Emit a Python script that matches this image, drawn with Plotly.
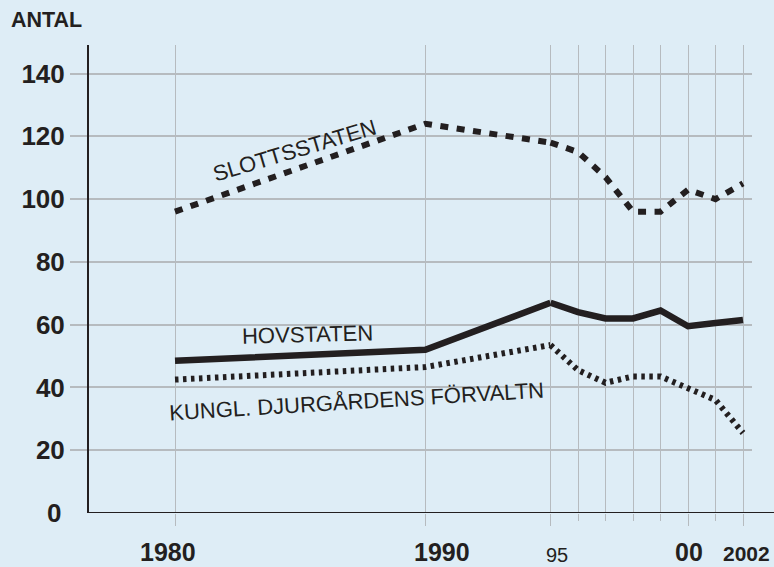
import plotly.graph_objects as go

# ---- data ----
years = [1980, 1990, 1995, 1996, 1997, 1998, 1999, 2000, 2001, 2002]
slottsstaten = [96, 124, 118, 115, 107, 96, 96, 103, 100, 105]
hovstaten = [48.5, 52, 67, 64, 62, 62, 64.5, 59.5, 60.5, 61.5]
djurgarden = [42.5, 46.5, 53.5, 45.5, 41.5, 43.5, 43.5, 40, 36, 25.5]

y_ticks = [20, 40, 60, 80, 100, 120, 140]
x_labels = {1980: "1980", 1990: "1990", 1995: "95", 2000: "00", 2002: "2002"}

BG = "#deedf6"
INK = "#231f20"
GRID = "#b6bbbf"
FONT = "Liberation Sans"

# layout geometry (the drawing uses a wider year spacing after 1995)
W, H = 774, 567
L, R, T, B = 89, 22, 45, 54
PW, PH = W - L - R, H - T - B
px1 = 25.033          # px per year 1980-1995
px2 = 27.5            # px per year 1995-2002
x1995 = 550.5
d1_end = (x1995 - L) / PW
ax1_range = [1995 - (x1995 - L) / px1, 1995]
ax2_start_px = x1995 - 0.5 * px2
d2_start = (ax2_start_px - L) / PW
ax2_range = [1994.5, 1994.5 + (W - R - ax2_start_px) / px2]
y_range = [0, 149.1]

fig = go.Figure()

series = [
    (slottsstaten, dict(color=INK, width=6, dash="8px,8.5px")),
    (hovstaten, dict(color=INK, width=6.5)),
    (djurgarden, dict(color=INK, width=6, dash="3.5px,4.5px")),
]
for vals, line in series:
    xa = [y for y in years if y <= 1995]
    ya = [v for y, v in zip(years, vals) if y <= 1995]
    xb = [y for y in years if y >= 1995]
    yb = [v for y, v in zip(years, vals) if y >= 1995]
    fig.add_trace(go.Scatter(x=xa, y=ya, mode="lines", line=line,
                             xaxis="x", yaxis="y", hoverinfo="skip"))
    fig.add_trace(go.Scatter(x=xb, y=yb, mode="lines", line=line,
                             xaxis="x2", yaxis="y", hoverinfo="skip"))

common_x = dict(showgrid=True, gridcolor=GRID, gridwidth=1, zeroline=False,
                showline=False, showticklabels=False, ticks="outside",
                tickcolor=GRID, tickwidth=1, automargin=False, fixedrange=True)

fig.update_layout(
    template="none",
    width=W, height=H,
    margin=dict(l=L, r=R, t=T, b=B, pad=0),
    paper_bgcolor=BG, plot_bgcolor="rgba(0,0,0,0)",
    showlegend=False,
    xaxis=dict(domain=[0, d1_end], range=ax1_range, tickmode="array",
               tickvals=[1980, 1990], ticklen=12, anchor="y", **common_x),
    xaxis2=dict(domain=[d2_start, 1], range=ax2_range, tickmode="array",
                tickvals=[1995, 2000, 2002], ticklen=12, anchor="y",
                minor=dict(tickmode="array", tickvals=[1996, 1997, 1998, 1999, 2001],
                           ticks="outside", ticklen=7, tickcolor=GRID, tickwidth=1,
                           showgrid=True, gridcolor=GRID, gridwidth=1),
                **common_x),
    yaxis=dict(range=y_range, tickmode="array", tickvals=y_ticks,
               ticktext=[str(v) for v in y_ticks],
               ticks="outside", ticklen=17, tickcolor=GRID, tickwidth=1.5,
               showgrid=True, gridcolor=GRID, gridwidth=1.5, zeroline=False,
               showline=True, linecolor=INK, linewidth=2,
               tickfont=dict(family=FONT, size=26, color=INK, weight="bold"),
               automargin=False, fixedrange=True),
)

# x-axis baseline running to the right edge
fig.add_shape(type="line", xref="paper", yref="y", x0=0, x1=(W - L) / PW,
              y0=0, y1=0, line=dict(color=INK, width=2), layer="above")

ann = []
# x labels (size, weight, horizontal offset, vertical centre in px)
xlab_style = {
    1980: (25, "bold", -6.6, 551.5),
    1990: (25, "bold", 17, 551.5),
    1995: (20, "normal", 6.5, 554.5),
    2000: (25, "bold", 0.8, 551.5),
    2002: (21, "bold", 3.3, 553.5),
}
for yr, txt in x_labels.items():
    size, weight, shift, cy = xlab_style[yr]
    ann.append(dict(text=txt, xref="x" if yr < 1995 else "x2", x=yr, xshift=shift,
                    yref="paper", y=(H - B - cy) / PH, yanchor="middle",
                    xanchor="center", showarrow=False, borderpad=0,
                    font=dict(family=FONT, size=size, color=INK, weight=weight)))
# zero label on y
ann.append(dict(text="0", xref="paper", x=(62 - L) / PW, xanchor="right",
                yref="y", y=0, yanchor="middle", showarrow=False, borderpad=0,
                font=dict(family=FONT, size=26, color=INK, weight="bold")))
# axis title
ann.append(dict(text="ANTAL", xref="paper", x=(10 - L) / PW, xanchor="left",
                yref="paper", y=(H - B - 20.5) / PH, yanchor="middle", showarrow=False,
                borderpad=0,
                font=dict(family=FONT, size=21.5, color=INK, weight="bold")))


def to_x1(px):
    return ax1_range[0] + (px - L) / px1


def to_y(py):
    return (H - B - py) / PH * y_range[1]


# series labels
for txt, cx, cy, ang in [
    ("SLOTTSSTATEN", 294.5, 150.3, -16.5),
    ("HOVSTATEN", 307, 334.3, -1.5),
    ("KUNGL. DJURGÅRDENS FÖRVALTN", 356, 401, -3.5),
]:
    ann.append(dict(text=txt, xref="x", yref="y", x=to_x1(cx), y=to_y(cy),
                    xanchor="center", yanchor="middle", textangle=ang,
                    showarrow=False, font=dict(family=FONT, size=22, color=INK)))

fig.update_layout(annotations=ann)

fig.write_html(
    "out.html",
    config={"displayModeBar": False},
    post_script="document.body.style.margin='0';document.body.style.overflow='hidden';",
)
